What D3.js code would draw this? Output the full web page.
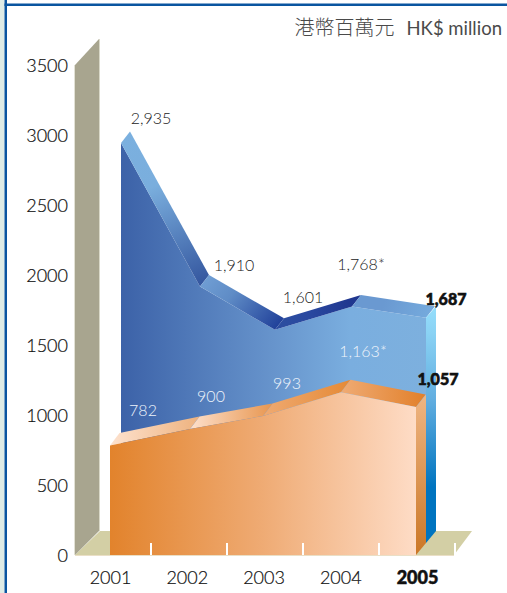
<!DOCTYPE html>
<html lang="en">
<head>
<meta charset="utf-8">
<title>HK$ million</title>
<script src="https://cdn.jsdelivr.net/npm/d3@7/dist/d3.min.js"></script>
<style>
  html, body { margin: 0; padding: 0; background: #fff; }
  svg { display: block; }
  text { font-family: Lato, "Noto Sans", sans-serif; font-weight: 300; fill: #333; }
  .axis path, .axis line { display: none; }
  .axis text { font-family: Lato, sans-serif; font-size: 18px; font-weight: 300; fill: #111; stroke: #111; stroke-width: 0.2px; }
</style>
</head>
<body>
<script>
var years = ["2001", "2002", "2003", "2004", "2005"];
var blueValues = [2935, 1910, 1601, 1768, 1687];
var orangeValues = [782, 900, 993, 1163, 1057];
var blueLabels = ["2,935", "1,910", "1,601", "1,768*", "1,687"];
var orangeLabels = ["782", "900", "993", "1,163*", "1,057"];
var yTicks = [0, 500, 1000, 1500, 2000, 2500, 3000, 3500];

var width = 507, height = 593;
var svg = d3.select("body").append("svg").attr("width", width).attr("height", height);
var defs = svg.append("defs");

var y = d3.scaleLinear().domain([0, 3500]).range([555, 65]);
// the original art is hand drawn so the years are not quite evenly spaced
var xOrange = d3.scaleOrdinal().domain(years).range([110, 190, 263, 341, 416]);
var xBlue = d3.scaleOrdinal().domain(years).range([121, 200, 275, 352, 426]);
var xLabel = d3.scalePoint().domain(years).range([110, 417]);
var xTick = d3.scalePoint().domain(years).range([151, 455]);

function gradient(id, x1, y1, x2, y2, stops) {
  var g = defs.append("linearGradient").attr("id", id)
    .attr("gradientUnits", "userSpaceOnUse")
    .attr("x1", x1).attr("y1", y1).attr("x2", x2).attr("y2", y2);
  stops.forEach(function(s) {
    g.append("stop").attr("offset", s[0]).attr("stop-color", s[1]);
  });
  return "url(#" + id + ")";
}

function poly(points, fill) {
  return svg.append("polygon")
    .attr("points", points.map(function(p) { return p.join(","); }).join(" "))
    .attr("fill", fill);
}

// page frame
svg.append("rect").attr("x", 0).attr("y", 0).attr("width", 4.5).attr("height", height).attr("fill", "#dfece6");
svg.append("rect").attr("x", 4.5).attr("y", 0).attr("width", 2.5).attr("height", height).attr("fill", "#0a55a0");
svg.append("rect").attr("x", 4.5).attr("y", 3.5).attr("width", width).attr("height", 2.5).attr("fill", "#0a55a0");

// wall and floor
poly([[75, 555], [100, 531], [472, 531], [454, 555]], "#d3cfa5");
poly([[75, y(3500)], [99, 39], [99, 531], [75, 555]], "#a8a58f");
svg.append("line").attr("x1", 99.5).attr("x2", 99.5).attr("y1", 39).attr("y2", 531).attr("stroke", "#d9d8c8");
svg.append("line").attr("x1", 74.5).attr("x2", 74.5).attr("y1", 65).attr("y2", 555).attr("stroke", "#e2e1d5");
svg.append("line").attr("x1", 75).attr("x2", 454).attr("y1", 555.5).attr("y2", 555.5).attr("stroke", "#eadfc6");

// blue series
var bdx = 9, bdy = -11.5, bLift = -1;
var blueFront = d3.area()
  .x(function(d) { return xBlue(d.year); })
  .y0(540)
  .y1(function(d) { return y(d.value) + bLift; });
var blueData = years.map(function(yr, i) { return { year: yr, value: blueValues[i] }; });
svg.append("path").datum(blueData).attr("d", blueFront)
  .attr("fill", gradient("blueFront", 121, 0, 426, 0, [[0, "#3c62a8"], [0.5, "#6794cc"], [0.75, "#7aaedf"], [1, "#7db0de"]]));

var blueTop = [
  ["#7bb0df", "#7aaedd", "#33559e"],
  ["#6f9dd3", "#5f8cc6", "#21419a"],
  ["#2c4da0", "#2a49a0", "#20378f"],
  ["#6a99d1", "#6a99d1", "#74a9dc"]
];
d3.pairs(blueData).forEach(function(p, i) {
  var x0 = xBlue(p[0].year), y0 = y(p[0].value) + bLift;
  var x1 = xBlue(p[1].year), y1 = y(p[1].value) + bLift;
  poly([[x0, y0], [x0 + bdx, y0 + bdy], [x1 + bdx, y1 + bdy], [x1, y1]],
    gradient("blueTop" + i, x0 + bdx, y0 + bdy, x1, y1, [[0, blueTop[i][0]], [0.35, blueTop[i][1]], [1, blueTop[i][2]]]));
});
// blue right side
var blueEnd = xBlue("2005"), blueEndY = y(1687) + bLift;
poly([[blueEnd, blueEndY], [blueEnd + 10, blueEndY + bdy], [blueEnd + 10, 531], [blueEnd, 543]],
  gradient("blueSide", 0, 311, 0, 531, [[0, "#93dcfa"], [0.1, "#8ad2f4"], [0.4, "#62aee0"], [0.8, "#0074bf"], [1, "#0074bf"]]));

// orange series
var odx = 9.5, ody = -12.5;
var orangeData = years.map(function(yr, i) { return { year: yr, value: orangeValues[i] }; });
var orangeFront = d3.area()
  .x(function(d) { return xOrange(d.year); })
  .y0(555)
  .y1(function(d) { return y(d.value); });
var orangeTop = [
  ["#fde2cf", "#eeb27e"],
  ["#fde0cc", "#e8964f"],
  ["#efaa72", "#e58a36"],
  ["#efab74", "#e2802a"]
];
d3.pairs(orangeData).forEach(function(p, i) {
  var x0 = xOrange(p[0].year), y0 = y(p[0].value);
  var x1 = xOrange(p[1].year), y1 = y(p[1].value);
  poly([[x0, y0], [x0 + odx, y0 + ody], [x1 + odx, y1 + ody], [x1, y1]],
    gradient("orangeTop" + i, x0, 0, x1 + odx, 0, [[0, orangeTop[i][0]], [1, orangeTop[i][1]]]));
});
var orangeEnd = xOrange("2005"), orangeEndY = y(1057);
poly([[orangeEnd, orangeEndY], [orangeEnd + 10, orangeEndY + ody], [orangeEnd + 10, 543], [orangeEnd, 555]],
  gradient("orangeSide", 0, 393, 0, 555, [[0, "#efb684"], [1, "#cb7726"]]));
svg.append("path").datum(orangeData).attr("d", orangeFront)
  .attr("fill", gradient("orangeFrontFill", 110, 0, 416, 0, [[0, "#e2832c"], [0.5, "#efab74"], [1, "#fedcc6"]]));

// white tick marks on the floor line
svg.append("g").selectAll("line").data(years).enter().append("line")
  .attr("x1", function(d) { return xTick(d); })
  .attr("x2", function(d) { return xTick(d); })
  .attr("y1", 543).attr("y2", 555)
  .attr("stroke", "#fff").attr("stroke-width", 2);

// axes
var yAxis = svg.append("g").attr("class", "axis").attr("transform", "translate(68,1)")
  .call(d3.axisLeft(y).tickValues(yTicks).tickSize(0).tickPadding(0).tickFormat(d3.format("d")));
var xAxis = svg.append("g").attr("class", "axis").attr("transform", "translate(0,570)")
  .call(d3.axisBottom(xLabel).tickSize(0).tickPadding(0));
xAxis.selectAll("text").attr("dy", "0.8em")
  .style("font-weight", function(d) { return d === "2005" ? 900 : 300; })
  .style("stroke-width", function(d) { return d === "2005" ? "0.5px" : null; });

// value labels, nudged off their points like the original
var blueNudge = [[30, -20], [34, -17], [28, -28], [9, -37], [20, -14]];
var orangeNudge = [[33, -30], [21, -27], [24, -27], [22, -35], [22, -22]];
function valueLabels(data, labels, nudge, x, fill) {
  svg.append("g").selectAll("text").data(data).enter().append("text")
    .attr("x", function(d, i) { return x(d.year) + nudge[i][0]; })
    .attr("y", function(d, i) { return y(d.value) + nudge[i][1]; })
    .attr("text-anchor", "middle")
    .attr("font-size", 16)
    .style("fill", function(d, i) { return i === 4 ? "#111" : fill; })
    .style("stroke", function(d, i) { return i === 4 ? "#111" : null; })
    .style("stroke-width", function(d, i) { return i === 4 ? "0.6px" : null; })
    .style("font-weight", function(d, i) { return i === 4 ? 900 : 300; })
    .text(function(d, i) { return labels[i]; });
}
valueLabels(blueData, blueLabels, blueNudge, xBlue, "#222");
valueLabels(orangeData, orangeLabels, orangeNudge, xOrange, "#eef4fb");

// unit caption
var cap = svg.append("text").attr("x", 502).attr("y", 35).attr("text-anchor", "end").style("fill", "#4a4a4a");
cap.append("tspan").style("font-family", '"Noto Sans CJK TC"').style("font-weight", 300).attr("font-size", 20).text("港幣百萬元");
cap.append("tspan").attr("font-size", 18.5).style("font-weight", 400).attr("dx", 12).text("HK$ million");
</script>
</body>
</html>
